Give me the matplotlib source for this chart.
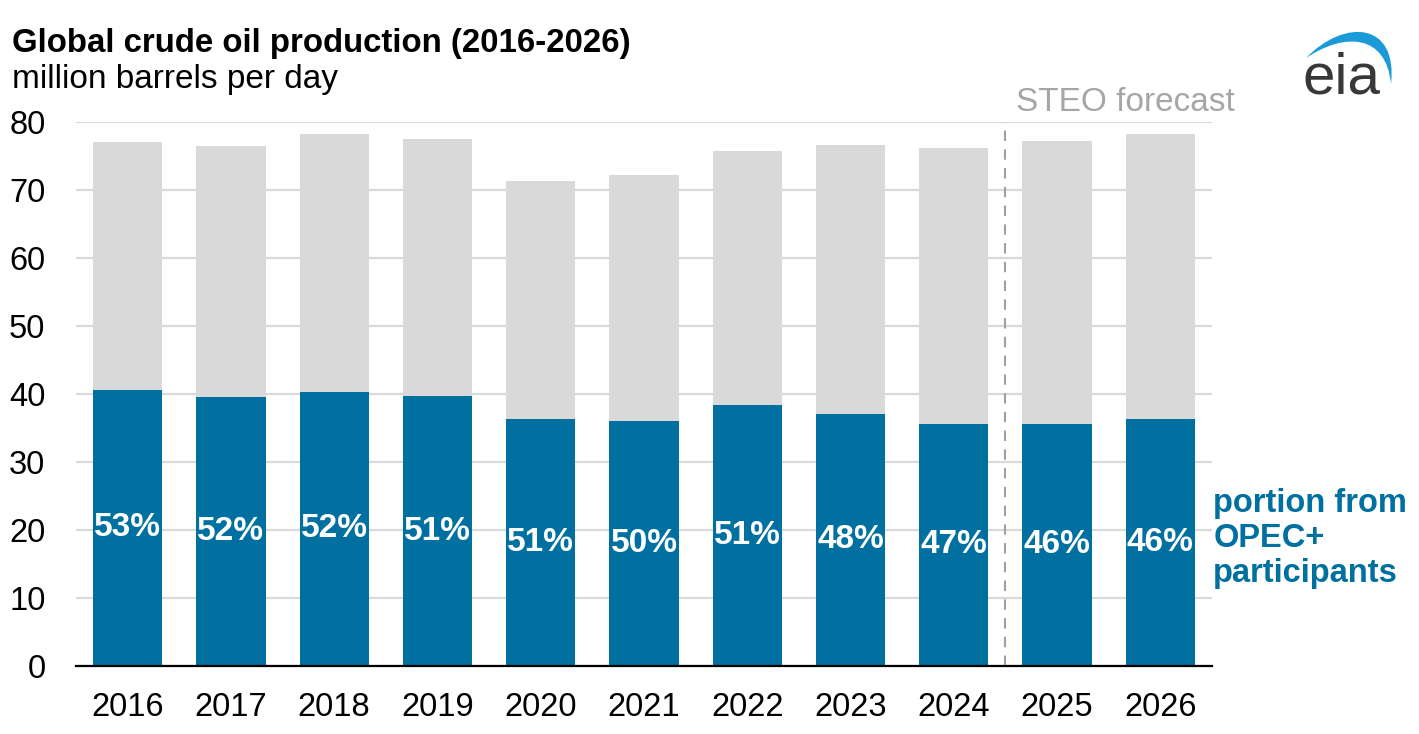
import numpy as np
import matplotlib
matplotlib.use("Agg")
import matplotlib.pyplot as plt
from matplotlib.path import Path
from matplotlib.patches import PathPatch

plt.rcParams["font.family"] = ["Liberation Sans", "DejaVu Sans"]

# ---------------------------------------------------------------------------
# Data (million barrels per day)
# ---------------------------------------------------------------------------
years = ["2016", "2017", "2018", "2019", "2020", "2021",
         "2022", "2023", "2024", "2025", "2026"]
total = [77.1, 76.5, 78.2, 77.5, 71.3, 72.2, 75.7, 76.6, 76.2, 77.2, 78.2]
opec = [40.6, 39.6, 40.3, 39.7, 36.3, 36.0, 38.4, 37.1, 35.6, 35.6, 36.3]
share_labels = ["53%", "52%", "52%", "51%", "51%", "50%",
                "51%", "48%", "47%", "46%", "46%"]
forecast_start = 8.5   # boundary between 2024 and 2025

BLUE = "#0070A0"
GRAY = "#D9D9D9"

W, H = 1419, 734
fig = plt.figure(figsize=(W / 100, H / 100), dpi=100)
ax = fig.add_axes([76 / W, 1 - 666 / H, (1212 - 76) / W, (666 - 122) / H])

x = np.arange(len(years))
rest = np.array(total) - np.array(opec)
ax.bar(x, opec, width=0.67, color=BLUE, zorder=2)
ax.bar(x, rest, bottom=opec, width=0.67, color=GRAY, zorder=2)

for xi, h, lab in zip(x, opec, share_labels):
    ax.text(xi, h / 2, lab, ha="center", va="center", color="white",
            fontsize=24, fontweight="bold", zorder=3)

ax.set_xlim(-0.5, len(years) - 0.5)
ax.set_ylim(0, 80)
ax.set_yticks(range(0, 81, 10))
ax.set_xticks(x)
ax.set_xticklabels(years)
ax.tick_params(axis="both", length=0, labelsize=23.5)
ax.tick_params(axis="y", pad=22)
ax.tick_params(axis="x", pad=19)
ax.grid(axis="y", color=GRAY, linewidth=1.6, zorder=0)
ax.set_axisbelow(True)
for s in ["top", "right", "left"]:
    ax.spines[s].set_visible(False)
ax.spines["bottom"].set_linewidth(1.6)
ax.spines["bottom"].set_zorder(4)

ax.vlines(forecast_start, 0, 80, colors="#A0A0A0", linestyles=(0, (5, 4)),
          linewidth=1.5, zorder=1, clip_on=False)
ax.text(forecast_start + 0.1, 80.6, "STEO forecast", color="#A6A6A6",
        fontsize=24, ha="left", va="bottom")

ax.text(1.001, 18.8, "portion from\nOPEC+\nparticipants", transform=ax.get_yaxis_transform(),
        color=BLUE, fontsize=23.5, fontweight="bold", ha="left", va="center",
        linespacing=1.17)

fig.text(12 / W, 1 - 52 / H, "Global crude oil production (2016-2026)",
         fontsize=23.8, fontweight="bold", ha="left", va="baseline")
fig.text(12 / W, 1 - 88 / H, "million barrels per day",
         fontsize=24, ha="left", va="baseline")

# eia logo (approximation)
lax = fig.add_axes([0, 0, 1, 1], zorder=5)
lax.set_xlim(0, W)
lax.set_ylim(H, 0)
lax.axis("off")
lax.patch.set_alpha(0)
verts = [(1306, 58), (1345, 18), (1398, 22), (1391, 84),
         (1386, 34), (1345, 32), (1306, 58), (1306, 58)]
codes = [Path.MOVETO, Path.CURVE4, Path.CURVE4, Path.CURVE4,
         Path.CURVE4, Path.CURVE4, Path.CURVE4, Path.CLOSEPOLY]
lax.add_patch(PathPatch(Path(verts, codes), facecolor="#1A9AD6", edgecolor="none"))
lax.text(1341, 93, "eia", fontsize=42, color="#383838", ha="center",
         va="baseline")

fig.savefig("out.png", dpi=100)
